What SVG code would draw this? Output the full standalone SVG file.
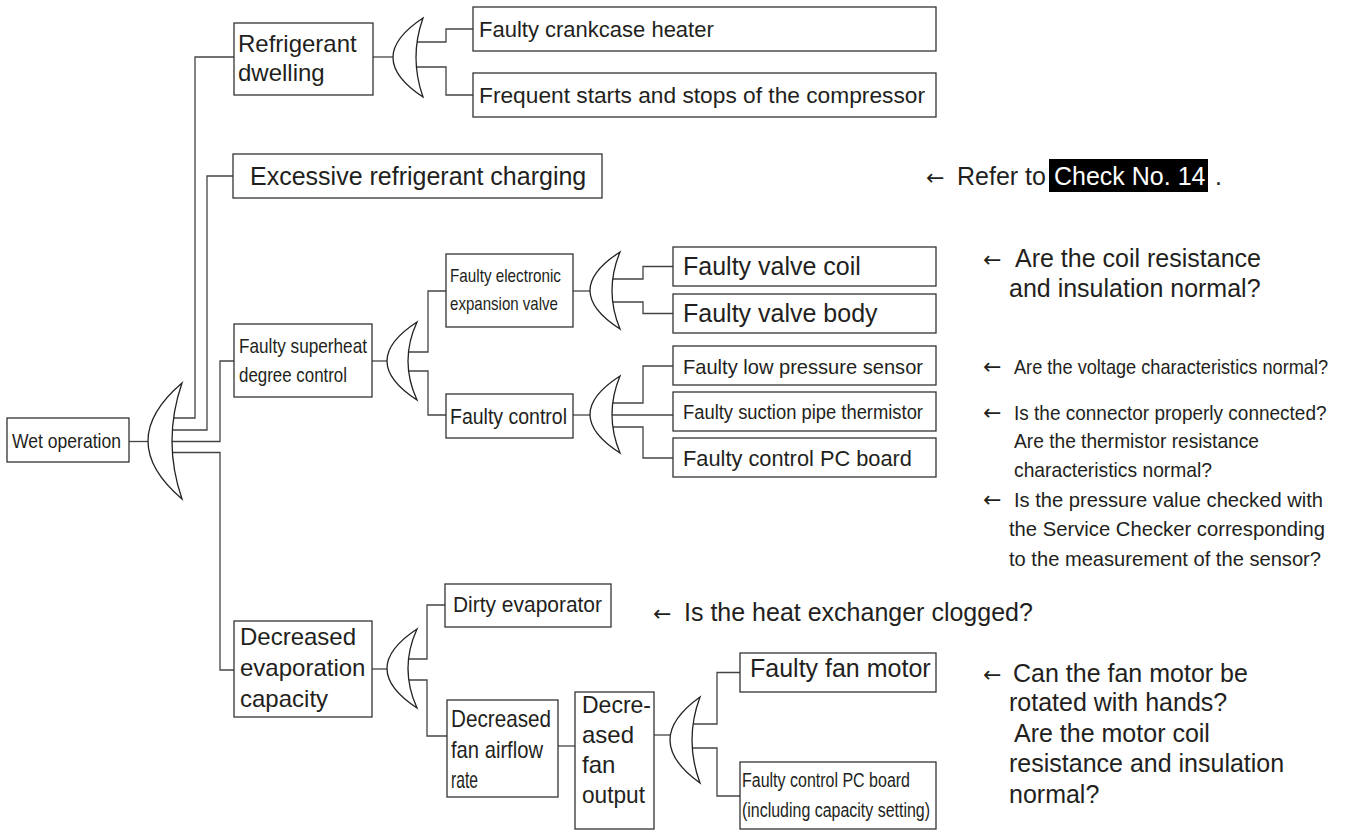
<svg xmlns="http://www.w3.org/2000/svg" width="1348" height="832" viewBox="0 0 1348 832">
<style>
.bg{fill:#fff}
.box{fill:#fff;stroke:#333;stroke-width:1.3}
.gate{fill:#fff;stroke:#222;stroke-width:1.3;stroke-linejoin:miter}
.wire{fill:none;stroke:#444;stroke-width:1.3}
text{font-family:"Liberation Sans",Arial,Helvetica,sans-serif;fill:#231f20}
.arr{font-family:"DejaVu Sans",sans-serif;font-size:22px}
.f25{font-size:25px}
.f24{font-size:24px}
.f22{font-size:22px}
.f21{font-size:21px}
.f20{font-size:20px}
.f19{font-size:19px}
.f18{font-size:18px}
</style>
<rect class="bg" x="0" y="0" width="1348" height="832"/>

<g id="connectors">
  <path class="wire" d="M129,441.5 H152"/>
  <path class="wire" d="M165,418 H195 V57 H234"/>
  <path class="wire" d="M165,430 H207 V176 H233"/>
  <path class="wire" d="M165,441.5 H220 V361 H234"/>
  <path class="wire" d="M165,452.5 H220 V670 H234"/>
  <path class="wire" d="M373,57 H396"/>
  <path class="wire" d="M405,42 H446 V29 H473"/>
  <path class="wire" d="M405,67 H446 V95 H473"/>
  <path class="wire" d="M372,361 H390"/>
  <path class="wire" d="M400,352 H428 V291 H446"/>
  <path class="wire" d="M400,371 H428 V415 H446"/>
  <path class="wire" d="M573,291 H593"/>
  <path class="wire" d="M603,279 H643 V266.5 H673"/>
  <path class="wire" d="M603,302 H643 V313.5 H673"/>
  <path class="wire" d="M573,415 H593"/>
  <path class="wire" d="M603,403 H643 V366 H673"/>
  <path class="wire" d="M603,415 H673"/>
  <path class="wire" d="M603,427 H643 V458 H673"/>
  <path class="wire" d="M372,669 H390"/>
  <path class="wire" d="M398,659 H427 V605 H445"/>
  <path class="wire" d="M398,680 H427 V736 H447"/>
  <path class="wire" d="M558,746 H575"/>
  <path class="wire" d="M654,735 H673"/>
  <path class="wire" d="M682,724 H717 V672.5 H740"/>
  <path class="wire" d="M682,748 H717 V796 H740"/>
</g>

<g id="gate-1"><path class="gate" d="M182,383 Q114,441 182,499 Q162,441 182,383 Z"/></g>
<g id="gate-2"><path class="gate" d="M423,18 Q363,57.5 423,97 Q409,57.5 423,18 Z"/></g>
<g id="gate-3"><path class="gate" d="M417,322 Q357,361 417,400 Q399,361 417,322 Z"/></g>
<g id="gate-4"><path class="gate" d="M620,252 Q560,290.5 620,329 Q604,290.5 620,252 Z"/></g>
<g id="gate-5"><path class="gate" d="M620,376 Q560,414.5 620,453 Q604,414.5 620,376 Z"/></g>
<g id="gate-6"><path class="gate" d="M417,629 Q357,668.5 417,708 Q399,668.5 417,629 Z"/></g>
<g id="gate-7"><path class="gate" d="M700,697 Q640,740 700,783 Q684,740 700,697 Z"/></g>

<g id="n-wet">
  <rect class="box" x="7" y="418" width="122" height="44"/>
  <text class="f21" x="12" y="448" textLength="109" lengthAdjust="spacingAndGlyphs">Wet operation</text>
</g>
<g id="n-dwelling">
  <rect class="box" x="234" y="23" width="139" height="72"/>
  <text class="f24" x="238" y="52">Refrigerant</text>
  <text class="f24" x="238" y="81">dwelling</text>
</g>
<g id="n-crankcase">
  <rect class="box" x="473" y="7" width="463" height="44"/>
  <text class="f22" x="479" y="37">Faulty crankcase heater</text>
</g>
<g id="n-frequent">
  <rect class="box" x="473" y="73" width="463" height="44"/>
  <text class="f22" x="479" y="103" textLength="446" lengthAdjust="spacingAndGlyphs">Frequent starts and stops of the compressor</text>
</g>
<g id="n-excessive">
  <rect class="box" x="233" y="154" width="369" height="44"/>
  <text class="f25" x="250" y="185">Excessive refrigerant charging</text>
</g>
<g id="n-superheat">
  <rect class="box" x="234" y="324" width="138" height="73"/>
  <text class="f21" x="239" y="353" textLength="128" lengthAdjust="spacingAndGlyphs">Faulty superheat</text>
  <text class="f21" x="239" y="382" textLength="108" lengthAdjust="spacingAndGlyphs">degree control</text>
</g>
<g id="n-eev">
  <rect class="box" x="446" y="254" width="127" height="73"/>
  <text class="f19" x="450" y="282" textLength="111" lengthAdjust="spacingAndGlyphs">Faulty electronic</text>
  <text class="f19" x="450" y="310" textLength="108" lengthAdjust="spacingAndGlyphs">expansion valve</text>
</g>
<g id="n-control">
  <rect class="box" x="446" y="394" width="127" height="44"/>
  <text class="f22" x="450" y="424" textLength="117" lengthAdjust="spacingAndGlyphs">Faulty control</text>
</g>
<g id="n-valve-coil">
  <rect class="box" x="673" y="247" width="263" height="39"/>
  <text class="f25" x="683" y="275">Faulty valve coil</text>
</g>
<g id="n-valve-body">
  <rect class="box" x="673" y="294" width="263" height="39"/>
  <text class="f25" x="683" y="322">Faulty valve body</text>
</g>
<g id="n-lp-sensor">
  <rect class="box" x="673" y="346" width="263" height="39"/>
  <text class="f21" x="683" y="374" textLength="240" lengthAdjust="spacingAndGlyphs">Faulty low pressure sensor</text>
</g>
<g id="n-suction">
  <rect class="box" x="673" y="392" width="263" height="39"/>
  <text class="f20" x="683" y="419" textLength="240" lengthAdjust="spacingAndGlyphs">Faulty suction pipe thermistor</text>
</g>
<g id="n-pcb">
  <rect class="box" x="673" y="438" width="263" height="39"/>
  <text class="f22" x="683" y="466" textLength="229" lengthAdjust="spacingAndGlyphs">Faulty control PC board</text>
</g>
<g id="n-evap-capacity">
  <rect class="box" x="234" y="621" width="138" height="96"/>
  <text class="f24" x="240" y="645">Decreased</text>
  <text class="f24" x="240" y="676">evaporation</text>
  <text class="f24" x="240" y="707">capacity</text>
</g>
<g id="n-dirty">
  <rect class="box" x="445" y="584" width="166" height="43"/>
  <text class="f22" x="453" y="612" textLength="149" lengthAdjust="spacingAndGlyphs">Dirty evaporator</text>
</g>
<g id="n-airflow">
  <rect class="box" x="447" y="700" width="111" height="97"/>
  <text class="f24" x="451" y="727" textLength="100" lengthAdjust="spacingAndGlyphs">Decreased</text>
  <text class="f24" x="451" y="758" textLength="92" lengthAdjust="spacingAndGlyphs">fan airflow</text>
  <text class="f24" x="451" y="788" textLength="27" lengthAdjust="spacingAndGlyphs">rate</text>
</g>
<g id="n-fan-output">
  <rect class="box" x="575" y="692" width="79" height="137"/>
  <text class="f24" x="582" y="713" textLength="69" lengthAdjust="spacingAndGlyphs">Decre-</text>
  <text class="f24" x="582" y="743">ased</text>
  <text class="f24" x="582" y="773">fan</text>
  <text class="f24" x="582" y="803" textLength="63" lengthAdjust="spacingAndGlyphs">output</text>
</g>
<g id="n-fan-motor">
  <rect class="box" x="740" y="653" width="196" height="39"/>
  <text class="f25" x="750" y="677">Faulty fan motor</text>
</g>
<g id="n-pcb2">
  <rect class="box" x="740" y="762" width="196" height="67"/>
  <text class="f20" x="742" y="787" textLength="168" lengthAdjust="spacingAndGlyphs">Faulty control PC board</text>
  <text class="f20" x="742" y="817" textLength="188" lengthAdjust="spacingAndGlyphs">(including capacity setting)</text>
</g>

<g id="notes">
  <text class="f25" y="185"><tspan class="arr" x="926">←</tspan><tspan x="957">Refer to</tspan></text>
  <rect x="1049" y="159" width="159" height="33" fill="#000"/>
  <text class="f25" x="1054" y="185" style="fill:#fff">Check No. 14</text>
  <text class="f25" x="1215" y="185">.</text>

  <text class="f25" y="267"><tspan class="arr" x="983">←</tspan><tspan x="1015">Are the coil resistance</tspan></text>
  <text class="f25" x="1009" y="297">and insulation normal?</text>

  <text class="arr" x="983" y="374">←</text>
  <text class="f21" transform="translate(1014,374) scale(0.866,1)">Are the voltage characteristics normal?</text>
  <text class="arr" x="983" y="420">←</text>
  <text class="f21" transform="translate(1014,420) scale(0.905,1)">Is the connector properly connected?</text>
  <text class="f21" x="1014" y="448" textLength="245" lengthAdjust="spacingAndGlyphs">Are the thermistor resistance</text>
  <text class="f21" x="1014" y="477" textLength="198" lengthAdjust="spacingAndGlyphs">characteristics normal?</text>
  <text class="f21" y="507"><tspan class="arr" x="983">←</tspan><tspan x="1014" textLength="309" lengthAdjust="spacingAndGlyphs">Is the pressure value checked with</tspan></text>
  <text class="f21" x="1009" y="536" textLength="316" lengthAdjust="spacingAndGlyphs">the Service Checker corresponding</text>
  <text class="f21" x="1009" y="566" textLength="312" lengthAdjust="spacingAndGlyphs">to the measurement of the sensor?</text>

  <text class="f25" y="621"><tspan class="arr" x="653">←</tspan><tspan x="684">Is the heat exchanger clogged?</tspan></text>

  <text class="f25" y="682"><tspan class="arr" x="983">←</tspan><tspan x="1013">Can the fan motor be</tspan></text>
  <text class="f25" x="1009" y="711">rotated with hands?</text>
  <text class="f25" x="1014" y="742">Are the motor coil</text>
  <text class="f25" x="1009" y="772">resistance and insulation</text>
  <text class="f25" x="1009" y="803">normal?</text>
</g>
</svg>
